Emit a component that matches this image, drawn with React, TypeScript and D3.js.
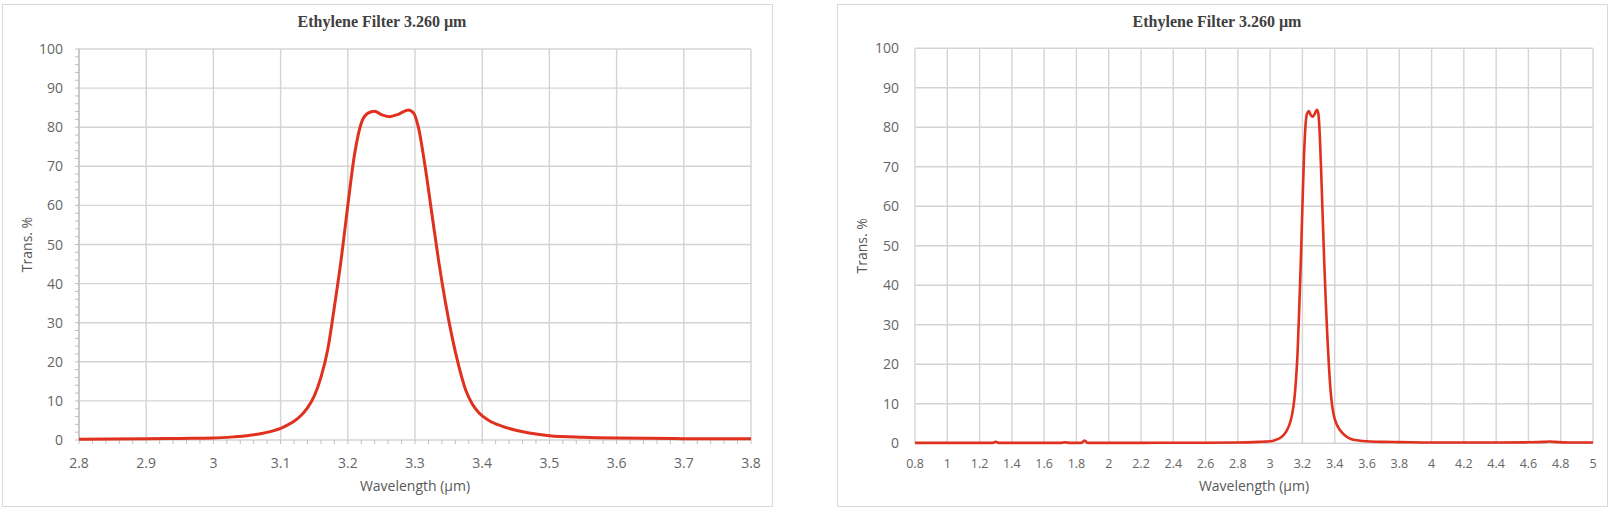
import React, { useEffect, useRef } from "react";
import * as d3 from "d3";

// transmission curve of the filter
const wavelength = [
  0.8, 1.0, 1.2, 1.28, 1.3, 1.32, 1.5, 1.7, 1.73, 1.76, 1.83, 1.85, 1.87, 2.0,
  2.2, 2.4, 2.6, 2.8, 2.9, 2.95, 3.0, 3.03, 3.05, 3.07, 3.09, 3.1, 3.11, 3.12,
  3.13, 3.14, 3.15, 3.16, 3.17, 3.18, 3.19, 3.2, 3.21, 3.22, 3.23, 3.24, 3.25,
  3.262, 3.275, 3.29, 3.298, 3.305, 3.315, 3.325, 3.335, 3.345, 3.355, 3.365,
  3.375, 3.385, 3.395, 3.41, 3.43, 3.45, 3.47, 3.5, 3.55, 3.6, 3.7, 3.8, 4.0,
  4.2, 4.4, 4.6, 4.7, 4.73, 4.76, 4.85, 5.0,
];
const transmission = [
  0.1, 0.1, 0.1, 0.1, 0.4, 0.1, 0.1, 0.1, 0.25, 0.1, 0.1, 0.7, 0.1, 0.1, 0.1,
  0.15, 0.15, 0.2, 0.3, 0.4, 0.5, 0.8, 1.1, 1.6, 2.4, 3.0, 3.8, 4.8, 6.2, 8.2,
  11.2, 16.0, 23, 34, 46, 60, 73, 81, 83.6, 84.1, 83.2, 82.7, 83.3, 84.4, 83.6,
  80, 70, 58, 46, 35.5, 26.5, 19, 13, 9.3, 7.0, 5.0, 3.5, 2.5, 1.8, 1.1, 0.7,
  0.5, 0.35, 0.3, 0.2, 0.2, 0.2, 0.25, 0.35, 0.45, 0.35, 0.2, 0.2,
];

const title = "Ethylene Filter 3.260 \u00b5m";
const xTitle = "Wavelength (\u00b5m)";
const yTitle = "Trans. %";

const zoomTicks = [2.8, 2.9, 3.0, 3.1, 3.2, 3.3, 3.4, 3.5, 3.6, 3.7, 3.8];
const wideTicks = [
  0.8, 1.0, 1.2, 1.4, 1.6, 1.8, 2.0, 2.2, 2.4, 2.6, 2.8, 3.0, 3.2, 3.4, 3.6,
  3.8, 4.0, 4.2, 4.4, 4.6, 4.8, 5.0,
];
const yTicks = [0, 10, 20, 30, 40, 50, 60, 70, 80, 90, 100];

const W = 1612;
const H = 513;
const SANS = "'Open Sans', 'Noto Sans', sans-serif";

export default function App() {
  const ref = useRef(null);

  useEffect(() => {
    document.body.style.margin = "0";
    const svg = d3.select(ref.current);
    svg.selectAll("*").remove();

    const points = wavelength.map((w, i) => ({ w, t: transmission[i] }));

    function drawPanel(opts) {
      const { frame, xDomain, xRange, yRange, ticks, minor, tickSize, lineWidth, titleX, yTitleX } = opts;
      const g = svg.append("g");

      g.append("rect")
        .attr("x", frame[0] + 0.5)
        .attr("y", frame[1] + 0.5)
        .attr("width", frame[2])
        .attr("height", frame[3])
        .attr("fill", "#fff")
        .attr("stroke", "#d9d9d9");

      const x = d3.scaleLinear().domain(xDomain).range(xRange);
      const y = d3.scaleLinear().domain([0, 100]).range(yRange);

      // grid
      g.append("g")
        .selectAll("line")
        .data(ticks)
        .join("line")
        .attr("x1", (d) => x(d))
        .attr("x2", (d) => x(d))
        .attr("y1", y(0))
        .attr("y2", y(100))
        .attr("stroke", "#d4d4d4")
        .attr("stroke-width", 1.4);
      g.append("g")
        .selectAll("line")
        .data(yTicks)
        .join("line")
        .attr("x1", xRange[0])
        .attr("x2", xRange[1])
        .attr("y1", (d) => y(d))
        .attr("y2", (d) => y(d))
        .attr("stroke", "#d4d4d4")
        .attr("stroke-width", 1.4);

      if (minor) {
        const yMinor = d3.range(0, 101, 2);
        g.append("g")
          .selectAll("line")
          .data(yMinor)
          .join("line")
          .attr("x1", xRange[0] - 4)
          .attr("x2", xRange[0])
          .attr("y1", (d) => y(d))
          .attr("y2", (d) => y(d))
          .attr("stroke", "#bfbfbf");
        const xMinor = d3.range(0, 51).map((i) => xDomain[0] + i * 0.02);
        g.append("g")
          .selectAll("line")
          .data(xMinor)
          .join("line")
          .attr("x1", (d) => x(d))
          .attr("x2", (d) => x(d))
          .attr("y1", y(0))
          .attr("y2", y(0) + 4)
          .attr("stroke", "#bfbfbf");
        g.append("line")
          .attr("x1", xRange[0])
          .attr("x2", xRange[0])
          .attr("y1", y(0))
          .attr("y2", y(100))
          .attr("stroke", "#bfbfbf")
          .attr("stroke-width", 1.4);
      }

      // tick labels
      g.append("g")
        .attr("font-family", SANS)
        .attr("font-size", 14)
        .attr("fill", "#666")
        .attr("text-anchor", "end")
        .selectAll("text")
        .data(yTicks)
        .join("text")
        .attr("x", xRange[0] - 16)
        .attr("y", (d) => y(d))
        .attr("dy", "0.36em")
        .text((d) => d);
      g.append("g")
        .attr("font-family", SANS)
        .attr("font-size", tickSize)
        .attr("fill", "#666")
        .attr("text-anchor", "middle")
        .selectAll("text")
        .data(ticks)
        .join("text")
        .attr("x", (d) => x(d))
        .attr("y", 463)
        .attr("dy", "0.36em")
        .text((d) => d3.format("~g")(+d.toFixed(2)));

      // curve
      const line = d3
        .line()
        .x((d) => x(d.w))
        .y((d) => y(d.t))
        .curve(d3.curveMonotoneX);
      const shown = points.filter((p) => p.w >= xDomain[0] - 1e-9 && p.w <= xDomain[1] + 1e-9);
      g.append("path")
        .datum(shown)
        .attr("d", line)
        .attr("fill", "none")
        .attr("stroke", "#e0301e")
        .attr("stroke-width", lineWidth)
        .attr("stroke-linejoin", "round");

      // titles
      g.append("text")
        .attr("x", titleX)
        .attr("y", 27)
        .attr("text-anchor", "middle")
        .attr("font-family", "'Liberation Serif', 'DejaVu Serif', serif")
        .attr("font-weight", "bold")
        .attr("font-size", 16)
        .attr("fill", "#404040")
        .text(title);
      g.append("text")
        .attr("x", (xRange[0] + xRange[1]) / 2)
        .attr("y", 486)
        .attr("dy", "0.36em")
        .attr("text-anchor", "middle")
        .attr("font-family", SANS)
        .attr("font-size", 14)
        .attr("fill", "#595959")
        .text(xTitle);
      g.append("text")
        .attr("transform", `translate(${yTitleX},${(yRange[0] + yRange[1]) / 2}) rotate(-90)`)
        .attr("dy", "0.36em")
        .attr("text-anchor", "middle")
        .attr("font-family", SANS)
        .attr("font-size", 14)
        .attr("fill", "#595959")
        .text(yTitle);
    }

    drawPanel({
      frame: [2, 4, 770, 502],
      xDomain: [2.8, 3.8],
      xRange: [79, 751],
      yRange: [440, 49],
      ticks: zoomTicks,
      minor: true,
      tickSize: 14,
      lineWidth: 3,
      titleX: 382,
      yTitleX: 27,
    });
    drawPanel({
      frame: [837, 4, 770, 502],
      xDomain: [0.8, 5.0],
      xRange: [915, 1593],
      yRange: [443.3, 48.3],
      ticks: wideTicks,
      minor: false,
      tickSize: 12.5,
      lineWidth: 2.6,
      titleX: 1217,
      yTitleX: 862,
    });
  }, []);

  return (
    <div>
      <svg ref={ref} width={W} height={H} style={{ display: "block", background: "#fff" }} />
    </div>
  );
}
